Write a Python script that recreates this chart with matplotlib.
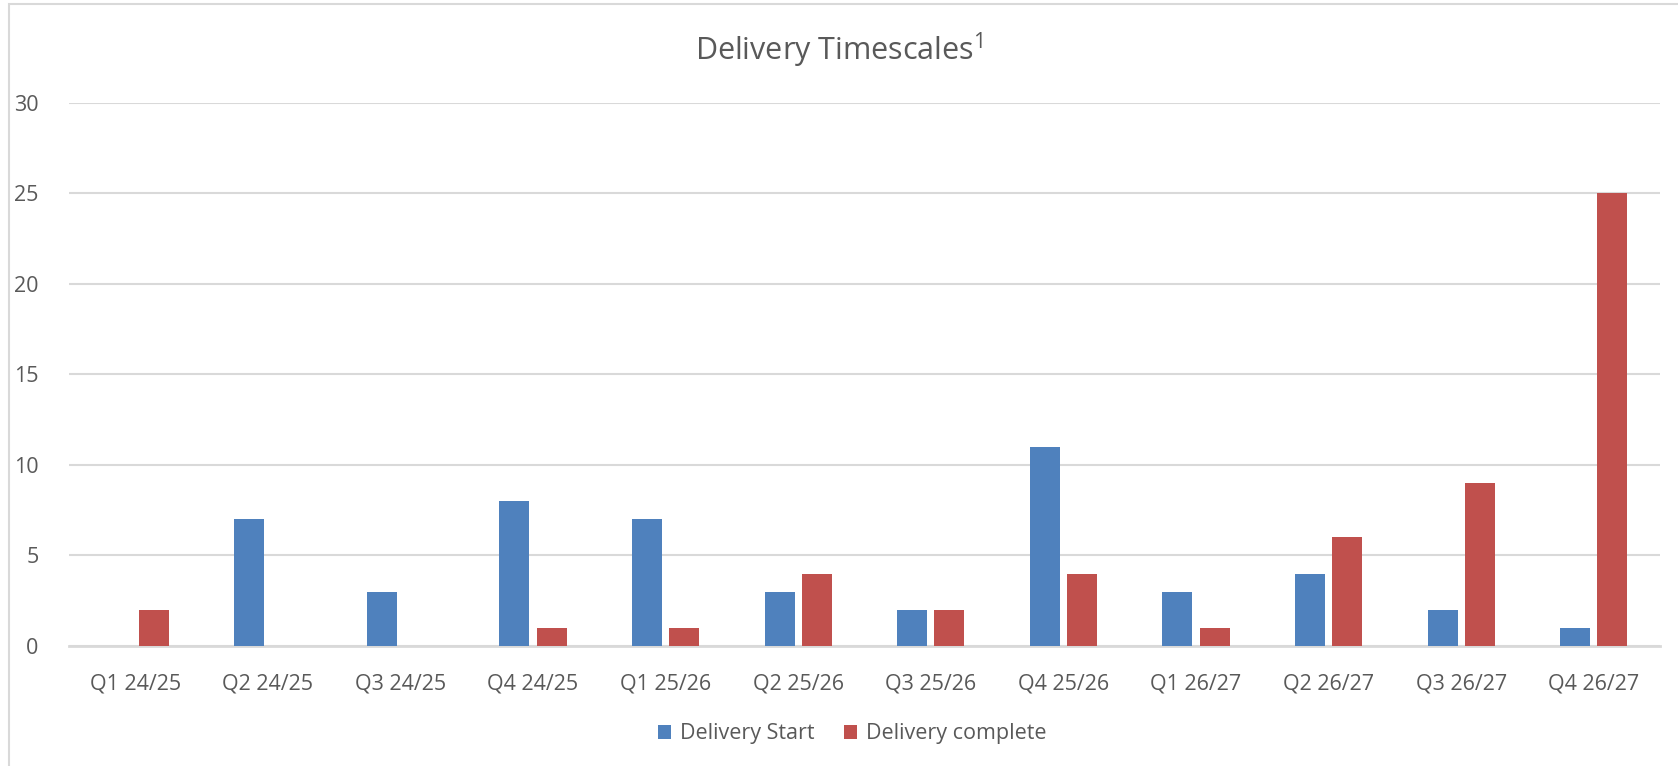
import numpy as np
import matplotlib.pyplot as plt
from matplotlib.patches import Rectangle

# Данные
quarters = ["Q1 24/25", "Q2 24/25", "Q3 24/25", "Q4 24/25",
            "Q1 25/26", "Q2 25/26", "Q3 25/26", "Q4 25/26",
            "Q1 26/27", "Q2 26/27", "Q3 26/27", "Q4 26/27"]
delivery_start = [0, 7, 3, 8, 7, 3, 2, 11, 3, 4, 2, 1]
delivery_complete = [2, 0, 0, 1, 1, 4, 2, 4, 1, 6, 9, 25]

text_color = "#595959"
grid_color = "#D9D9D9"

plt.rcParams['font.family'] = ['Open Sans', 'DejaVu Sans']
plt.rcParams['mathtext.default'] = 'regular'

fig = plt.figure(figsize=(16.78, 7.66), dpi=100)
ax = fig.add_axes([0.0411, 0.1567, 0.9482, 0.7089])

x = np.arange(len(quarters))
w = 0.226
ax.bar(x - 0.14, delivery_start, w, color="#4F81BD", label="Delivery Start", zorder=3)
ax.bar(x + 0.14, delivery_complete, w, color="#C0504D", label="Delivery complete", zorder=3)

ax.set_xlim(-0.5, len(quarters) - 0.5)
ax.set_ylim(0, 30)
ax.set_yticks(range(0, 31, 5))
ax.set_xticks(x)
ax.set_xticklabels(quarters)
ax.tick_params(axis='both', length=0, labelsize=15.5, colors=text_color)
ax.tick_params(axis='x', pad=20)
ax.tick_params(axis='y', pad=22)

ax.grid(axis='y', color=grid_color, linewidth=1.5, zorder=0)
for s in ["top", "right", "left"]:
    ax.spines[s].set_visible(False)
ax.spines["bottom"].set_color(grid_color)
ax.spines["bottom"].set_linewidth(2)

fig.text(0.5, 0.934, "Delivery Timescales$^1$", ha='center', va='center',
         fontsize=22, color=text_color)

leg = fig.legend(loc='center', bbox_to_anchor=(0.508, 0.042), ncol=2, frameon=False,
                 fontsize=15.5, handlelength=0.6, handleheight=0.6, handletextpad=0.4,
                 columnspacing=1.4)
for t in leg.get_texts():
    t.set_color(text_color)

# рамка области диаграммы
fig.patches.append(Rectangle((9 / 1678, -0.1), 2, 0.1 + 1 - 4 / 766,
                             transform=fig.transFigure, fill=False,
                             edgecolor=grid_color, linewidth=1.5))

fig.savefig("out.png", dpi=100)
